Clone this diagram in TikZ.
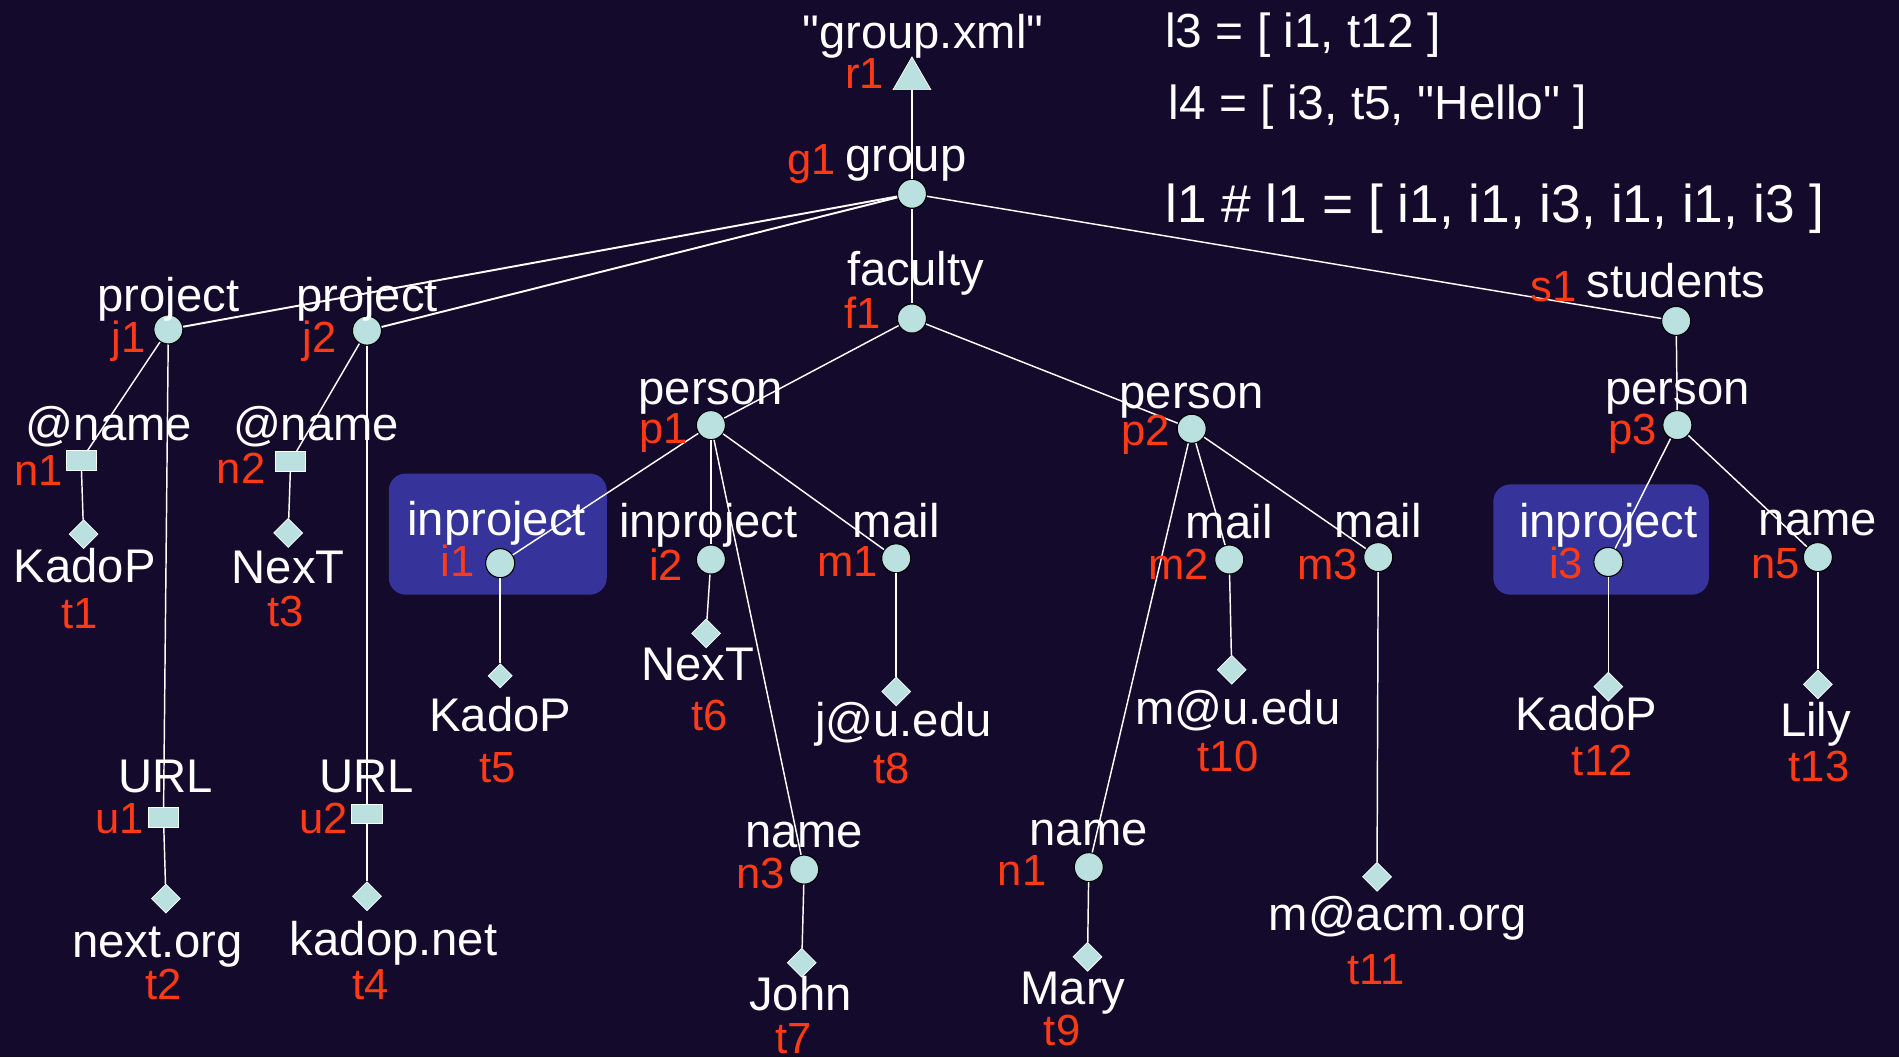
\documentclass[tikz,border=0pt]{standalone}
\usepackage{fontspec}
\setmainfont{Liberation Sans}[Ligatures=TeXOff]
\usetikzlibrary{shapes.geometric}
\definecolor{bg}{HTML}{140A2C}
\definecolor{nodefill}{HTML}{BAE0DF}
\definecolor{idred}{HTML}{FF3A14}
\definecolor{boxblue}{HTML}{36349A}

\begin{document}
\begin{tikzpicture}[x=1pt,y=-1pt,
  elem/.style={circle, draw=black, line width=0.9pt, fill=nodefill, minimum size=24pt, inner sep=0},
  leaf/.style={diamond, draw=white, line width=0.6pt, fill=nodefill, minimum width=24pt, minimum height=24pt, inner sep=0},
  attr/.style={rectangle, draw=white, line width=0.6pt, fill=nodefill, minimum width=25pt, minimum height=16pt, inner sep=0},
  docroot/.style={regular polygon, regular polygon sides=3, draw=white, line width=0.6pt, fill=nodefill, minimum size=36pt, inner sep=0},
  tag/.style={text=white, font=\fontsize{39}{39}\selectfont, inner sep=0, text height=28pt, text depth=8pt, yshift=-4pt},
  ident/.style={text=idred, font=\fontsize{36}{36}\selectfont, inner sep=0, text height=26pt, text depth=7.5pt, yshift=-4pt},
  formula/.style={text=white, inner sep=0, anchor=west, text height=28pt, text depth=9pt, yshift=-4pt},
  idbox/.style={rectangle, rounded corners=14pt, fill=boxblue, inner sep=0},
  link/.style={draw=white, line width=1.2pt},
  toplink/.style={draw=white, line width=1.6pt},
]
% background
\fill[bg] (0,0) rectangle (1568,873);
\useasboundingbox (0,0) rectangle (1568,873);

% highlighted inproject elements
\node[idbox, minimum width=180pt, minimum height=100pt] (box1) at (411,441) {};
\node[idbox, minimum width=178pt, minimum height=91pt] (box3) at (1322,445.5) {};

% formulas
\node[formula, font=\fontsize{39.5}{39.5}\selectfont] (f3) at (962,26) {l3 = [ i1, t12 ]};
\node[formula, font=\fontsize{39.5}{39.5}\selectfont] (f4) at (965,85) {l4 = [ i3, t5, "Hello" ]};
\node[formula, font=\fontsize{44}{44}\selectfont, yshift=-2pt] (f1) at (962,168) {l1 \# l1 = [ i1, i1, i3, i1, i1, i3 ]};

% ---- tree nodes ----
\node[docroot] (r1) at (753,65) {};
\node[elem] (g1) at (753,160) {};
\node[elem] (f1n) at (753,263) {};
\node[elem] (j1) at (139,272) {};
\node[elem] (j2) at (303,273) {};
\node[elem] (s1) at (1384,265) {};

\node[attr] (n1) at (67,380) {};
\node[attr] (n2) at (240,381) {};
\node[leaf] (t1) at (69,441) {};
\node[leaf] (t3) at (238,440) {};
\node[attr] (u1) at (135,675) {};
\node[attr] (u2) at (303,672) {};
\node[leaf] (t2) at (137,742) {};
\node[leaf] (t4) at (303,740) {};

\node[elem] (p1) at (587,351) {};
\node[elem] (i1) at (413,465) {};
\node[leaf, minimum width=20pt, minimum height=20pt] (t5) at (413,558) {};
\node[elem] (i2) at (587,462) {};
\node[leaf] (t6) at (583,523) {};
\node[elem] (m1) at (740,461) {};
\node[leaf] (t8) at (740,571) {};
\node[elem] (n3) at (664,718) {};
\node[leaf] (t7) at (662,795) {};

\node[elem] (p2) at (984,354) {};
\node[elem] (m2) at (1015,462) {};
\node[leaf] (t10) at (1017,553) {};
\node[elem] (m3) at (1138,460) {};
\node[leaf] (t11) at (1137,724) {};
\node[elem] (nm) at (899,716) {};
\node[leaf] (t9) at (898,790) {};

\node[elem] (p3) at (1385,351) {};
\node[elem] (i3) at (1328,464) {};
\node[leaf] (t12) at (1328,567) {};
\node[elem] (n5) at (1501,460) {};
\node[leaf] (t13) at (1501,565) {};

% ---- edges ----
\draw[link] (g1) -- (r1.south);
\draw[toplink] (g1) -- (j1);
\draw[toplink] (g1) -- (j2);
\draw[link] (g1) -- (f1n);
\draw[link] (g1) -- (s1);

\draw[link] (j1) -- (n1);
\draw[link] (n1) -- (t1);
\draw[link] (j1) -- (u1);
\draw[link] (u1) -- (t2);
\draw[link] (j2) -- (n2);
\draw[link] (n2) -- (t3);
\draw[link] (j2) -- (u2);
\draw[link] (u2) -- (t4);

\draw[link] (f1n) -- (p1);
\draw[link] (f1n) -- (p2);
\draw[link] (p1) -- (i1);
\draw[link] (i1) -- (t5);
\draw[link] (p1) -- (i2);
\draw[link] (i2) -- (t6);
\draw[link] (p1) -- (m1);
\draw[link] (m1) -- (t8);
\draw[link] (p1) -- (n3);
\draw[link] (n3) -- (t7);

\draw[link] (p2) -- (m2);
\draw[link] (m2) -- (t10);
\draw[link] (p2) -- (m3);
\draw[link] (m3) -- (t11);
\draw[link] (p2) -- (nm);
\draw[link] (nm) -- (t9);

\draw[link] (s1) -- (p3);
\draw[link] (p3) -- (i3);
\draw[link] (i3) -- (t12);
\draw[link] (p3) -- (n5);
\draw[link] (n5) -- (t13);

% ---- element names and values ----
\node[tag] (lr1) at (762,26) {"group.xml"};
\node[tag] (lg1) at (748,128) {group};
\node[tag] (lf1) at (756,222) {faculty};
\node[tag] (lj1) at (139,243) {project};
\node[tag] (lj2) at (303,243) {project};
\node[tag] (ls1) at (1384,232) {students};
\node[tag] (ln1) at (90,350) {@name};
\node[tag] (ln2) at (261,350) {@name};
\node[tag] (lt1) at (70,467) {KadoP};
\node[tag] (lt3) at (238,468) {NexT};
\node[tag] (lu1) at (137,640) {URL};
\node[tag] (lu2) at (303,640) {URL};
\node[tag] (lt2) at (130,777) {next.org};
\node[tag] (lt4) at (325,775) {kadop.net};
\node[tag] (lp1) at (587,320) {person};
\node[tag] (li1) at (410,428) {inproject};
\node[tag] (lt5) at (413,590) {KadoP};
\node[tag] (li2) at (585,430) {inproject};
\node[tag] (lt6) at (576,548) {NexT};
\node[tag] (lm1) at (740,430) {mail};
\node[tag] (lt8) at (746,594) {j@u.edu};
\node[tag] (ln3) at (664,686) {name};
\node[tag] (lt7) at (661,820) {John};
\node[tag] (lp2) at (984,323) {person};
\node[tag] (lm2) at (1015,431) {mail};
\node[tag] (lt10) at (1022,584) {m@u.edu};
\node[tag] (lm3) at (1138,430) {mail};
\node[tag] (lt11) at (1154,754) {m@acm.org};
\node[tag] (lnm) at (899,684) {name};
\node[tag] (lt9) at (886,815) {Mary};
\node[tag] (lp3) at (1385,320) {person};
\node[tag] (li3) at (1328,430) {inproject};
\node[tag] (lt12) at (1310,589) {KadoP};
\node[tag] (ln5) at (1501,428) {name};
\node[tag] (lt13) at (1499,594) {Lily};

% ---- identifiers ----
\node[ident] (ir1) at (714,60) {r1};
\node[ident] (ig1) at (670,131) {g1};
\node[ident] (if1) at (712,258) {f1};
\node[ident] (ij1) at (106,278) {j1};
\node[ident] (ij2) at (264,278) {j2};
\node[ident] (is1) at (1283,236) {s1};
\node[ident] (in1) at (32,388) {n1};
\node[ident] (in2) at (199,386) {n2};
\node[ident] (it1) at (66,506) {t1};
\node[ident] (it3) at (236,504) {t3};
\node[ident] (iu1) at (99,675) {u1};
\node[ident] (iu2) at (267,675) {u2};
\node[ident] (it2) at (135,812) {t2};
\node[ident] (it4) at (306,812) {t4};
\node[ident] (ip1) at (548,353) {p1};
\node[ident] (ii1) at (378,463) {i1};
\node[ident] (it5) at (411,633) {t5};
\node[ident] (ii2) at (550,466) {i2};
\node[ident] (it6) at (586,590) {t6};
\node[ident] (im1) at (700,463) {m1};
\node[ident] (it8) at (736,634) {t8};
\node[ident] (in3) at (628,720) {n3};
\node[ident] (it7) at (655,857) {t7};
\node[ident] (ip2) at (946,355) {p2};
\node[ident] (im2) at (973,465) {m2};
\node[ident] (it10) at (1014,624) {t10};
\node[ident] (im3) at (1096,465) {m3};
\node[ident] (it11) at (1136,800) {t11};
\node[ident] (inm) at (844,718) {n1};
\node[ident] (it9) at (877,850) {t9};
\node[ident] (ip3) at (1348,354) {p3};
\node[ident] (ii3) at (1293,464) {i3};
\node[ident] (it12) at (1323,627) {t12};
\node[ident] (in5) at (1466,464) {n5};
\node[ident] (it13) at (1502,632) {t13};
\end{tikzpicture}
\end{document}
